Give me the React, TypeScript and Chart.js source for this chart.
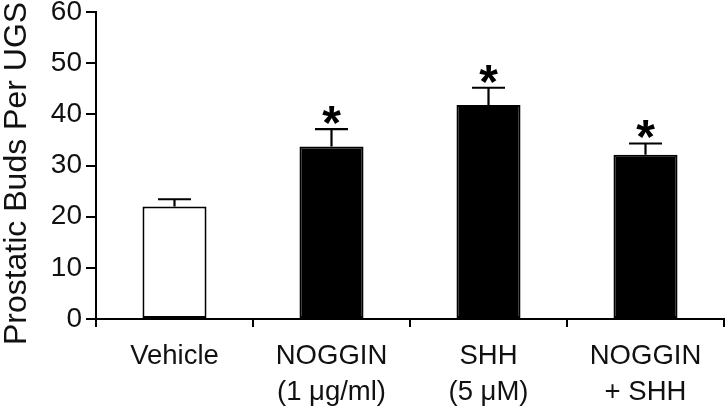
import React, { useEffect, useRef } from "react";
import { Chart, registerables } from "chart.js";

Chart.register(...registerables);

const categories: string[][] = [
  ["Vehicle"],
  ["NOGGIN", "(1 \u03bcg/ml)"],
  ["SHH", "(5 \u03bcM)"],
  ["NOGGIN", "+ SHH"],
];
const means: number[] = [22.0, 33.7, 41.8, 32.1];
const errors: number[] = [1.4, 3.4, 3.4, 2.2];
const significant: boolean[] = [false, true, true, true];
const fillColors: string[] = ["#ffffff", "#000000", "#000000", "#000000"];
const yTitle = "Prostatic Buds Per UGS";
const yMin = 0;
const yMax = 60;
const yStep = 10;

const FONT = '"Liberation Sans", Arial, Helvetica, sans-serif';
const INK = "#111111";

const errorBarPlugin = {
  id: "errorBars",
  afterDatasetsDraw(chart: any) {
    const ctx = chart.ctx as CanvasRenderingContext2D;
    const meta = chart.getDatasetMeta(0);
    const yScale = chart.scales.y;
    const capHalf = 16.5;
    meta.data.forEach((bar: any, i: number) => {
      const x = bar.x;
      const top = yScale.getPixelForValue(means[i]);
      const capY = yScale.getPixelForValue(means[i] + errors[i]);
      ctx.save();
      ctx.strokeStyle = "#000";
      ctx.lineWidth = 2.2;
      ctx.beginPath();
      ctx.moveTo(x, top);
      ctx.lineTo(x, capY);
      ctx.moveTo(x - capHalf, capY);
      ctx.lineTo(x + capHalf, capY);
      ctx.stroke();
      if (significant[i]) {
        ctx.font = `bold 48px ${FONT}`;
        ctx.fillStyle = "#000";
        ctx.textAlign = "center";
        ctx.textBaseline = "alphabetic";
        const m = ctx.measureText("*");
        const desc = m.actualBoundingBoxDescent || 0;
        const baseline = capY - 5 - desc;
        ctx.fillText("*", x, baseline);
      }
      ctx.restore();
    });
  },
};

const yTitlePlugin = {
  id: "yTitle",
  afterDraw(chart: any) {
    const ctx = chart.ctx as CanvasRenderingContext2D;
    const area = chart.chartArea;
    ctx.save();
    ctx.translate(26, (area.top + area.bottom) / 2 + 8);
    ctx.rotate(-Math.PI / 2);
    ctx.font = `32px ${FONT}`;
    ctx.fillStyle = INK;
    ctx.textAlign = "center";
    ctx.textBaseline = "alphabetic";
    ctx.fillText(yTitle, 0, 0);
    ctx.restore();
  },
};

export default function App() {
  const ref = useRef<HTMLCanvasElement | null>(null);
  useEffect(() => {
    if (!ref.current) return;
    const chart = new Chart(ref.current, {
      type: "bar",
      data: {
        labels: categories,
        datasets: [
          {
            data: means,
            backgroundColor: fillColors,
            borderColor: "#000",
            borderWidth: 2,
            borderSkipped: false,
            barPercentage: 0.408,
            categoryPercentage: 1,
          },
        ],
      },
      options: {
        responsive: false,
        animation: false,
        layout: { padding: { top: 12, right: 4, left: 0, bottom: 0 } },
        plugins: {
          legend: { display: false },
          tooltip: { enabled: false },
        },
        scales: {
          x: {
            offset: true,
            grid: {
              offset: true,
              display: true,
              drawOnChartArea: false,
              drawTicks: true,
              tickLength: 8,
              color: "#000",
              lineWidth: 2,
            },
            border: { display: true, color: "#000", width: 2 },
            ticks: {
              color: INK,
              padding: 12,
              maxRotation: 0,
              autoSkip: false,
              font: { family: FONT, size: 27.5, lineHeight: 1.3 },
            },
            afterFit: (s: any) => {
              s.height = 93;
            },
          },
          y: {
            min: yMin,
            max: yMax,
            grid: {
              display: true,
              drawOnChartArea: false,
              drawTicks: true,
              tickLength: 10,
              color: "#000",
              lineWidth: 2,
            },
            border: { display: true, color: "#000", width: 2 },
            ticks: {
              stepSize: yStep,
              color: INK,
              padding: 4,
              font: { family: FONT, size: 28, lineHeight: 0.4 },
            },
            title: { display: false },
            afterFit: (s: any) => {
              s.width = 96;
              s.paddingTop = 0;
              s.paddingBottom = 0;
            },
          },
        },
      },
      plugins: [errorBarPlugin, yTitlePlugin],
    });
    return () => chart.destroy();
  }, []);
  return (
    <div style={{ position: "absolute", left: 0, top: 0, width: 728, height: 412, background: "#fff" }}>
      <canvas ref={ref} width={728} height={412} style={{ display: "block" }} />
    </div>
  );
}
